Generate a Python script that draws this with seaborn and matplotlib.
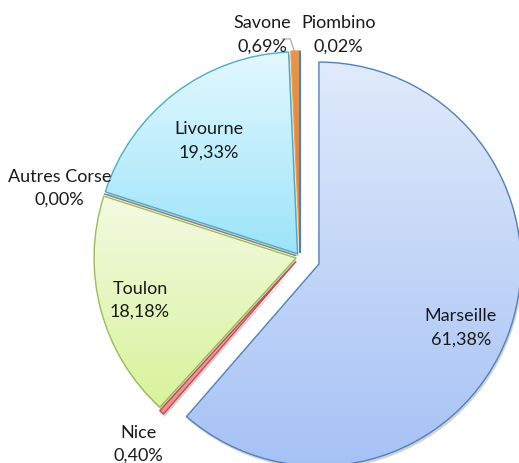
import numpy as np
import seaborn as sns
import matplotlib.pyplot as plt
from matplotlib.colors import LinearSegmentedColormap
from matplotlib.patches import Shadow

sns.set_theme(style="white")
plt.rcParams['font.family'] = ['Lato', 'DejaVu Sans']

ports = ['Marseille', 'Nice', 'Toulon', 'Autres Corse', 'Livourne', 'Savone', 'Piombino']
shares = [61.38, 0.40, 18.18, 0.00, 19.33, 0.69, 0.02]
pct_labels = ['61,38%', '0,40%', '18,18%', '0,00%', '19,33%', '0,69%', '0,02%']

# gradient fills (top, bottom) and outline colours, Excel style
grad_top = ['#e0eafb', '#f8b8b8', '#f3fae2', '#c8c8c8', '#e2f8fe', '#e8954c', '#9ab8e0']
grad_bot = ['#a6c2f5', '#ee8c8c', '#d8f39a', '#a0a0a0', '#9ce4fa', '#d87a30', '#6a90c8']
edges = ['#4f81bd', '#c0504d', '#9bbb59', '#808080', '#4bacc6', '#f79646', '#4f81bd']
explode = [0.1, 0.03, 0.02, 0.02, 0.02, 0.02, 0.02]
label_dist = [0.76, 1.22, 0.80, 1.22, 0.74, 1.12, 1.12]
label_shift = [(-0.01, -0.045), (0.03, 0.01), (0, 0), (-0.01, -0.035), (0.01, -0.025), (-0.16, -0.035), (0.19, -0.035)]

fig = plt.figure(figsize=(5.19, 4.64), dpi=100)
ax = fig.add_axes([0, 0, 1, 1])
ax.set_aspect('equal')
ax.axis('off')

wedges, _ = ax.pie(shares, startangle=90, counterclock=False, explode=explode,
                   radius=1.0, center=(0, 0),
                   wedgeprops=dict(linewidth=1.0))

for w, c0, c1, ec in zip(wedges, grad_top, grad_bot, edges):
    w.set_facecolor('none')
    w.set_edgecolor(ec)
    w.set_zorder(3)
    sh = Shadow(w, 0.005, -0.01, facecolor='#909090', alpha=0.4, edgecolor='none')
    sh.set_zorder(1)
    ax.add_patch(sh)
    ext = w.get_path().get_extents()
    cmap = LinearSegmentedColormap.from_list('g', [c1, c0])
    grad = np.linspace(0, 1, 256).reshape(-1, 1)
    im = ax.imshow(grad, cmap=cmap, origin='lower', aspect='auto',
                   extent=(ext.x0, ext.x1, ext.y0, ext.y1), zorder=2)
    im.set_clip_path(w)

ax.set_xlim(-300 / 202, 219 / 202)
ax.set_ylim(-206 / 202, 258 / 202)

for w, name, pct, d, (sx, sy) in zip(wedges, ports, pct_labels, label_dist, label_shift):
    mid = np.deg2rad((w.theta1 + w.theta2) / 2)
    cx, cy = w.center
    x = cx + d * np.cos(mid) + sx
    y = cy + d * np.sin(mid) + sy
    ax.text(x, y, f'{name}\n{pct}', ha='center', va='center', fontsize=13,
            color='#1a1a1a', linespacing=1.55, zorder=5)

# leader line for Savone
sav = wedges[5]
mid = np.deg2rad((sav.theta1 + sav.theta2) / 2)
tip = (sav.center[0] + 1.0 * np.cos(mid) - 0.005, sav.center[1] + 1.0 * np.sin(mid))
ax.plot([tip[0] - 0.06, tip[0] - 0.02, tip[0]], [tip[1] + 0.06, tip[1] + 0.06, tip[1]],
        color='#a0a0a0', lw=0.8, zorder=4)

fig.savefig('out.png', dpi=100)
